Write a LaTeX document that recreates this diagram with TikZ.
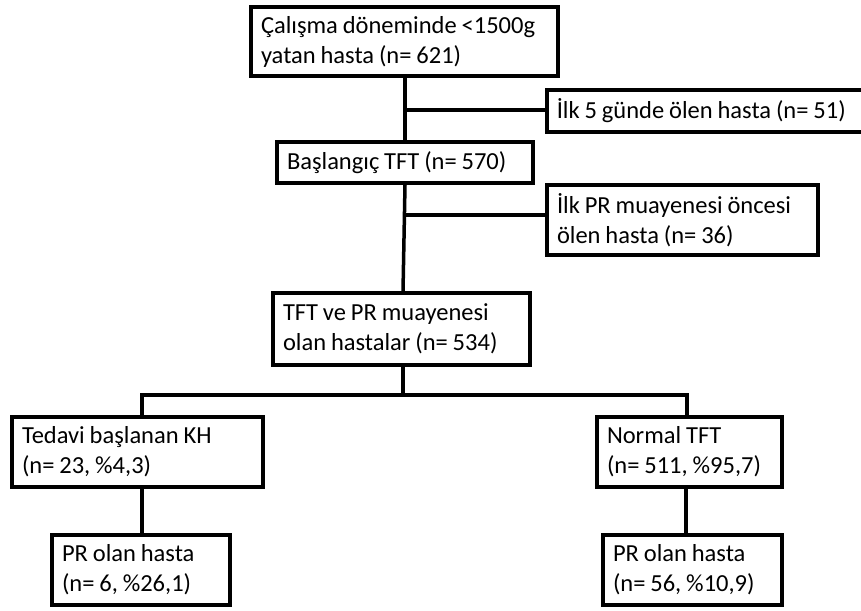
\documentclass[tikz,border=0pt]{standalone}
\usepackage{fontspec}
\setmainfont{Carlito}
\newcommand\tightsp{\spaceskip=0.2em\relax}
\begin{document}
\begin{tikzpicture}[x=1pt,y=-1pt,
  box/.style={draw=black,line width=3.5pt,fill=white,align=left,inner xsep=10pt,inner ysep=2pt,
    font=\fontsize{24.5}{30}\selectfont, execute at begin node=\tightsp},
  conn/.style={line width=3.5pt}]
\useasboundingbox (0,0) rectangle (861,610);
\clip (0,0) rectangle (861,610);
\coordinate (t0) at (405,76);
\coordinate (b1) at (405,110);
\coordinate (b2) at (405,215);
\coordinate (t1) at (403,395);
\coordinate (fl) at (142,395);
\coordinate (gr) at (687,395);

\node[box,text width=287pt,minimum height=69pt] (A) at (404.5,41.5) {Çalışma döneminde <1500g\\yatan hasta (n= 621)};
\node[box,text width=330pt,minimum height=42pt,anchor=west] (B) at (545,111) {İlk 5 günde ölen hasta (n= 51)};
\node[box,text width=236pt,minimum height=41pt] (C) at (405,162.5) {Başlangıç TFT (n= 570)};
\node[box,text width=251pt,minimum height=70pt] (D) at (682.5,220) {İlk PR muayenesi öncesi\\ölen hasta (n= 36)};
\node[box,text width=237pt,minimum height=72pt] (E) at (401.5,329) {TFT ve PR muayenesi\\olan hastalar (n= 534)};
\node[box,text width=231pt,minimum height=70pt] (F) at (137.5,452) {Tedavi başlanan KH\\(n= 23, \%4,3)};
\node[box,text width=165pt,minimum height=70pt] (G) at (689.5,452) {Normal TFT\\(n= 511, \%95,7)};
\node[box,text width=158pt,minimum height=70pt] (H) at (141,570) {PR olan hasta\\(n= 6, \%26,1)};
\node[box,text width=159pt,minimum height=70pt] (I) at (692.5,570) {PR olan hasta\\(n= 56, \%10,9)};

\draw[conn] (t0 |- A.south) -- (t0 |- C.north);
\draw[conn] (b1) -- (b1 -| B.west);
\draw[conn] (t0 |- C.south) -- (t1 |- E.north);
\draw[conn] (b2) -- (b2 -| D.west);
\draw[conn] (t1 |- E.south) -- (t1);
\draw[conn,line join=miter] (fl |- F.north) -- (fl) -- (gr) -- (gr |- G.north);
\draw[conn] (fl |- F.south) -- (fl |- H.north);
\draw[conn] (686,487) -- (686,535);
\end{tikzpicture}
\end{document}
